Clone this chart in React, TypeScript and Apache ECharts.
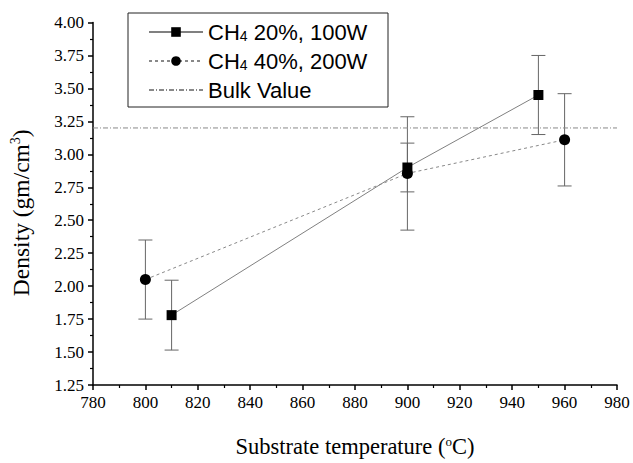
import React, { useEffect, useRef } from "react";
import * as echarts from "echarts";

const s1Name = "CH4 20%, 100W";
const s2Name = "CH4 40%, 200W";
const bulkName = "Bulk Value";

const s1Temp = [810, 900, 950];
const s1Density = [1.78, 2.9, 3.45];
const s1Err = [0.265, 0.185, 0.3];

const s2Temp = [800, 900, 960];
const s2Density = [2.05, 2.855, 3.11];
const s2Err = [0.3, 0.43, 0.35];

const bulkTemp = [780, 980];
const bulkDensity = [3.2, 3.2];

const xTicks = { min: 780, max: 980, interval: 20 };
const yTicks = { min: 1.25, max: 4.0, interval: 0.25 };

export default function App() {
  const ref = useRef<HTMLDivElement>(null);
  useEffect(() => {
    if (!ref.current) return;
    const chart = echarts.init(ref.current, undefined, { renderer: "svg" });
    const errData = [
      ...s1Temp.map((t, i) => [t, s1Density[i] - s1Err[i], s1Density[i] + s1Err[i]]),
      ...s2Temp.map((t, i) => [t, s2Density[i] - s2Err[i], s2Density[i] + s2Err[i]]),
    ];
    const serif = "Liberation Serif, Times New Roman, serif";
    const sans = "Liberation Sans, Arial, sans-serif";
    chart.setOption({
      animation: false,
      backgroundColor: "#fff",
      grid: { left: 90, right: 16, top: 22.5, bottom: 72 },
      graphic: [
        {
          type: "rect",
          shape: { x: 128, y: 13, width: 260, height: 94 },
          style: { fill: "#fff", stroke: "#222", lineWidth: 1 },
          z: 50,
        },
      ],
      legend: {
        z: 60,
        data: [
          { name: s1Name },
          { name: s2Name },
          { name: bulkName, itemStyle: { opacity: 0 } },
        ],
        orient: "vertical",
        left: 148,
        top: 21,
        padding: 0,
        itemWidth: 54,
        itemHeight: 12,
        itemGap: 7,
        formatter: (n: string) => n.replace("CH4", "CH{sub|4}"),
        textStyle: {
          fontFamily: sans,
          fontSize: 22,
          color: "#000",
          rich: {
            sub: { fontFamily: sans, fontSize: 14, color: "#000", padding: [8, 0, 0, 0] },
          },
        },
      },
      xAxis: {
        type: "value",
        min: xTicks.min,
        max: xTicks.max,
        interval: xTicks.interval,
        name: "Substrate temperature ({sup|o}C)",
        nameLocation: "middle",
        nameGap: 50,
        nameTextStyle: {
          fontFamily: serif,
          fontSize: 22.5,
          color: "#000",
          rich: { sup: { fontFamily: serif, fontSize: 13, color: "#000", padding: [0, 0, 10, 0] } },
        },
        axisLine: { lineStyle: { color: "#000", width: 1.5 } },
        axisTick: { length: 5, lineStyle: { color: "#000", width: 1.5 } },
        minorTick: { show: true, splitNumber: 2, length: 3, lineStyle: { color: "#000", width: 1.2 } },
        axisLabel: { fontFamily: serif, fontSize: 17, color: "#000", margin: 9 },
        splitLine: { show: false },
      },
      yAxis: {
        type: "value",
        min: yTicks.min,
        max: yTicks.max,
        interval: yTicks.interval,
        name: "Density (gm/cm{sup|3})",
        nameLocation: "middle",
        nameGap: 60,
        nameTextStyle: {
          fontFamily: serif,
          fontSize: 23.5,
          color: "#000",
          padding: [0, 18, 0, 0],
          rich: { sup: { fontFamily: serif, fontSize: 14, color: "#000", padding: [0, 0, 11, 0] } },
        },
        axisLine: { show: true, lineStyle: { color: "#000", width: 1.5 } },
        axisTick: { show: true, length: 5, lineStyle: { color: "#000", width: 1.5 } },
        minorTick: { show: true, splitNumber: 2, length: 3, lineStyle: { color: "#000", width: 1.2 } },
        axisLabel: {
          fontFamily: serif,
          fontSize: 17,
          color: "#000",
          margin: 9,
          formatter: (v: number) => v.toFixed(2),
        },
        splitLine: { show: false },
      },
      series: [
        {
          type: "custom",
          name: "err",
          z: 1,
          data: errData,
          renderItem: (params: any, api: any) => {
            const x = api.value(0);
            const top = api.coord([x, api.value(2)]);
            const bot = api.coord([x, api.value(1)]);
            const hw = 7;
            const st = { stroke: "#666", lineWidth: 1 };
            return {
              type: "group",
              children: [
                { type: "line", shape: { x1: top[0], y1: top[1], x2: bot[0], y2: bot[1] }, style: st },
                { type: "line", shape: { x1: top[0] - hw, y1: top[1], x2: top[0] + hw, y2: top[1] }, style: st },
                { type: "line", shape: { x1: bot[0] - hw, y1: bot[1], x2: bot[0] + hw, y2: bot[1] }, style: st },
              ],
            };
          },
        },
        {
          type: "line",
          name: bulkName,
          z: 2,
          data: bulkTemp.map((t, i) => [t, bulkDensity[i]]),
          symbol: "none",
          lineStyle: { color: "#888", width: 1, type: [5, 2, 1, 2] },
          itemStyle: { color: "#888" },
        },
        {
          type: "line",
          name: s1Name,
          z: 3,
          data: s1Temp.map((t, i) => [t, s1Density[i]]),
          symbol: "rect",
          symbolSize: 10,
          lineStyle: { color: "#808080", width: 1 },
          itemStyle: { color: "#000" },
        },
        {
          type: "line",
          name: s2Name,
          z: 3,
          data: s2Temp.map((t, i) => [t, s2Density[i]]),
          symbol: "circle",
          symbolSize: 11,
          lineStyle: { color: "#888", width: 1, type: [3, 3] },
          itemStyle: { color: "#000" },
        },
      ],
    });
    return () => chart.dispose();
  }, []);
  return <div ref={ref} style={{ width: 633, height: 463, position: "absolute", left: 0, top: 0 }} />;
}
